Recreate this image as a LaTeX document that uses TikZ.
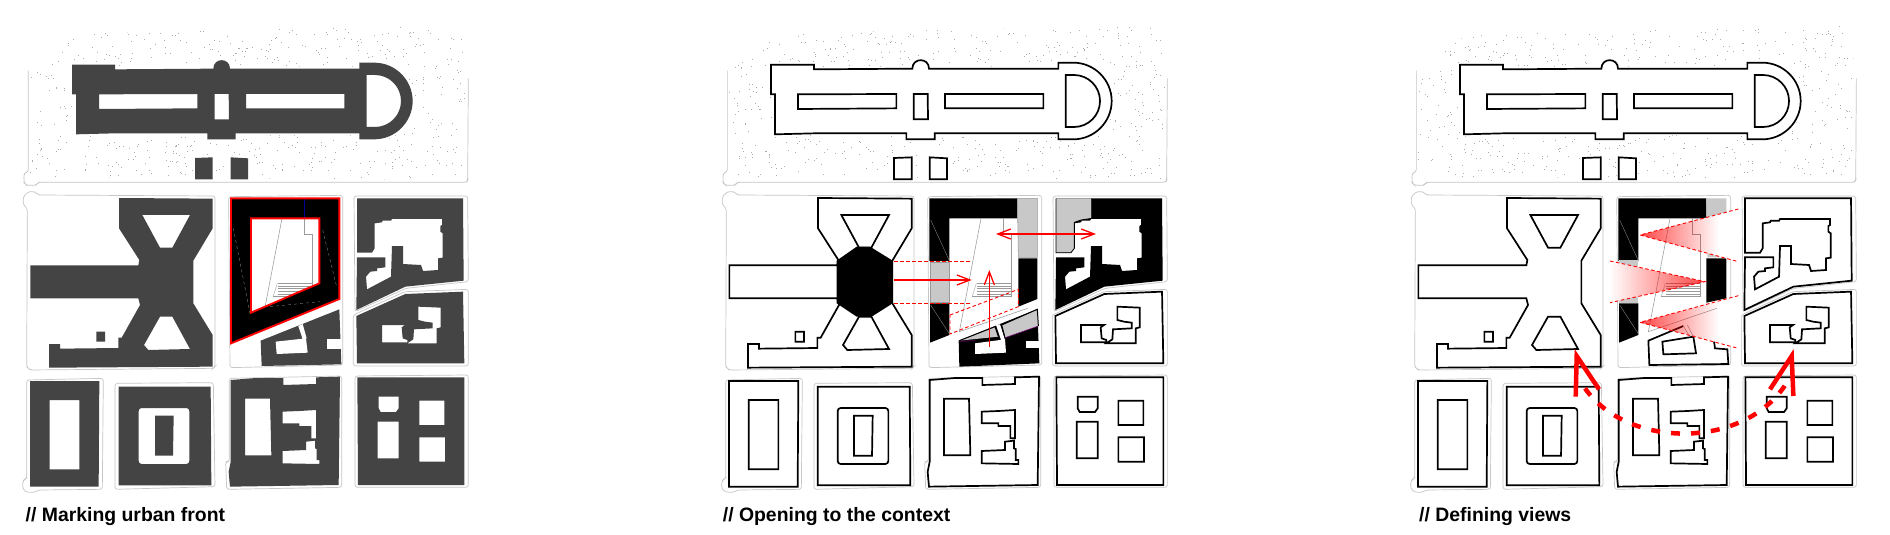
\documentclass[tikz,border=0pt]{standalone}
\usepackage{fontspec}
\setmainfont{Liberation Sans}
\usetikzlibrary{arrows.meta}
\definecolor{dk}{HTML}{444444}
\definecolor{plotg}{HTML}{C6C6C6}
\definecolor{grayfill}{HTML}{C8C8C8}
\definecolor{thing}{HTML}{9A9A9A}
\definecolor{dotg}{HTML}{ABABAB}
\definecolor{redd}{HTML}{FF0000}
\tikzset{
 outl/.style={draw=black,line width=1.7pt,line join=miter},
 plot/.style={draw=plotg,line width=.7pt,rounded corners=2.5pt},
 thinl/.style={draw=thing,line width=.55pt},
 reddash/.style={draw=redd,line width=.9pt,dash pattern=on 3.5pt off 2.5pt},
 redarrow/.style={draw=redd,line width=1.3pt,-{Straight Barb[length=13pt,width=10pt,line width=1.3pt]}},
 redbi/.style={draw=redd,line width=1.3pt,{Straight Barb[length=13pt,width=10pt,line width=1.3pt]}-{Straight Barb[length=13pt,width=10pt,line width=1.3pt]}},
 bigred/.style={draw=redd,line width=4.5pt,line join=miter,miter limit=10},
 label/.style={font=\bfseries\fontsize{19.4}{22}\selectfont,anchor=base west,inner sep=0pt,text=black},
}
\def\PalOut{(216,194)--(345,194)--(345,208)--(640,206) .. controls (640,172) and (690,172) .. (690,206)--(1078,206)--(1078,188)--(1123,188) .. controls (1186,188) and (1238,240) .. (1238,303) .. controls (1238,366) and (1186,418) .. (1123,418)--(1078,418)--(1078,400)--(707,400)--(707,418)--(622,418)--(622,400)--(345,400)--(228,403)--(228,283)--(216,283)--cycle}
\def\PalHoles{(297,283)--(592,282)--(592,325)--(297,327)--cycle (644,282)--(686,282)--(687,358)--(644,358)--cycle (738,282)--(1033,282)--(1033,325)--(738,325)--cycle (1100,225)--(1125,225) .. controls (1168,225) and (1203,260) .. (1203,303) .. controls (1203,346) and (1168,381) .. (1125,381)--(1100,381)--cycle}
\def\PalRects{(585,474)--(638,472)--(638,538)--(585,538)--cycle (692,472)--(744,475)--(744,538)--(692,538)--cycle}
\def\XOut{(357,594)--(638,596)--(638,685)--(580,782)--(580,910)--(638,1005)--(638,1100)--(147,1103)--(147,1032)--(180,1032)--(180,1046)--(355,1044)--(355,1013)--(365,1013)--(420,915)--(415,895)--(91,895)--(91,796)--(415,796)--(418,780)--(357,685)--cycle}
\def\XHoles{(427,645)--(570,645)--(517,743)--(480,743)--cycle (480,950)--(517,950)--(570,1047)--(445,1050)--(432,1035)--cycle (289,995)--(315,995)--(315,1025)--(289,1025)--cycle}
\def\UOut{(1071,595)--(1389,595)--(1391,842)--(1216,860)--(1069,930)--(1071,772)--(1156,772)--(1156,802)--(1131,805)--(1131,813)--(1111,815)--(1098,830)--(1101,868)--(1173,830)--(1176,738)--(1209,738)--(1209,792)--(1263,795)--(1269,813)--(1314,810)--(1314,775)--(1328,773)--(1328,700)--(1321,695)--(1321,678)--(1326,675)--(1326,657)--(1176,657)--(1173,662)--(1148,662)--(1146,667)--(1124,670)--(1124,745)--(1116,758)--(1071,758)--cycle}
\def\LOut{(1069,948)--(1216,882)--(1389,875)--(1393,1090)--(1071,1090)--cycle}
\def\LHoles{(1146,975)--(1215,975)--(1205,982)--(1208,1015)--(1222,1020)--(1222,1027)--(1146,1027)--cycle (1255,920)--(1322,923)--(1322,982)--(1310,985)--(1310,1030)--(1222,1030)--(1240,1018)--(1242,988)--(1298,985)--(1298,968)--(1275,965)--(1255,960)--cycle}
\def\BA{(90,1143)--(298,1143)--(296,1460)--(90,1460)--cycle (149,1200)--(238,1200)--(238,1408)--(149,1408)--cycle}
\def\BB{(356,1160)--(632,1160)--(634,1456)--(356,1456)--cycle (416,1224) [rounded corners=3pt] --(568,1224)--(568,1392)--(416,1392)--cycle [sharp corners] (465,1247)--(521,1247)--(519,1367)--(465,1367)--cycle}
\def\BC{(692,1140)--(768,1134)--(850,1134)--(850,1155)--(948,1152)--(948,1132)--(1020,1130)--(1016,1455)--(690,1460)--(688,1440)--(686,1415)--(692,1385)--cycle (735,1196)--(810,1196)--(814,1366)--(735,1366)--cycle (848,1235)--(898,1233)--(948,1230)--(948,1315)--(934,1315)--(934,1278)--(898,1278)--(898,1270)--(848,1270)--cycle (918,1325)--(945,1322)--(945,1345)--(950,1347)--(950,1380)--(958,1380)--(958,1392)--(848,1390)--(848,1353)--(918,1350)--cycle}
\def\BD{(1072,1132)--(1393,1132)--(1393,1455)--(1074,1455)--cycle (1136,1190)--(1196,1190)--(1196,1225)--(1188,1236)--(1142,1236)--(1136,1225)--cycle (1133,1265)--(1196,1265)--(1196,1375)--(1133,1375)--cycle (1258,1202)--(1333,1202)--(1333,1275)--(1258,1275)--cycle (1258,1312)--(1335,1312)--(1335,1385)--(1258,1385)--cycle}
\def\Hexa{(413,782)--(473,740)--(513,740)--(581,782)--(581,910)--(518,950)--(473,950)--(413,910)--cycle}
\newcommand\stipple[1]{%
 \begin{scope}
 \clip (90,530)--(90,215)--(115,195)--(155,170)--(200,120)--(290,100)--(800,88)--(1390,78)--(1400,240)--(1395,540)--cycle;
 \pgfmathsetseed{#1}
 \foreach \i in {1,...,800}{%
  \pgfmathrandominteger{\dx}{85}{1400}%
  \pgfmathrandominteger{\dy}{78}{540}%
  \fill[dotg] (\dx,\dy) rectangle ++(3,3);
 }
 \end{scope}
 \draw[white,line width=4pt,fill=white,line join=round] \PalOut;
 \draw[white,line width=4pt,fill=white,line join=round] \PalRects;
}
\newcommand\plots{%
 \path[plot] (85,212)--(85,515)--(72,520)--(72,548)--(80,556)--(108,556)--(115,547)--(1400,547)--(1403,540)--(1405,235);
 \path[plot] (115,585)--(645,588)--(645,1100)--(640,1105)--(90,1110)--(80,1100)--(82,625)--(70,615)--(70,590)--(85,575)--(105,575)--cycle;
 \path[plot] (686,590)--(1028,586)--(1028,1095)--(690,1103)--cycle;
 \path[plot] (1062,588)--(1403,588)--(1405,845)--(1218,865)--(1065,935)--cycle;
 \path[plot] (1060,945)--(1215,875)--(1405,868)--(1405,1098)--(1060,1098)--cycle;
 \path[plot] (80,1140)--(310,1135)--(307,1468)--(115,1470)--(100,1478)--(75,1475)--(67,1460)--(70,1440)--(80,1435)--cycle;
 \path[plot] (345,1150)--(640,1148)--(645,1460)--(345,1468)--cycle;
 \path[plot] (688,1135)--(1025,1128)--(1025,1462)--(680,1468)--(677,1385)--(688,1385)--cycle;
 \path[plot] (1065,1128)--(1405,1125)--(1405,1462)--(1065,1462)--cycle;
}
\newcommand\cinner{%
 \draw[thinl] (846,655)--(781,995)--(986,925);
 \draw[thinl] (913,655)--(913,702)--(938,702)--(938,888)--(820,888);
 \foreach \yy in {850,858,866,874,882}{\draw[thinl,line width=.35pt] (834,\yy)--(938,\yy);}
 \draw[thinl,line width=.35pt] (832,850)--(820,888);
}
\newcommand\outlinedcommon{%
 \path[outl] \PalOut; \path[outl] \PalHoles; \path[outl] \PalRects;
 \path[outl] \XOut; \path[outl] \XHoles;
 \path[outl] \BA; \path[outl] \BB; \path[outl] \BC; \path[outl] \BD;
 \path[outl] \LOut; \path[outl] \LHoles;
}
\newcommand\wedgeR[6]{%
 \begin{scope}
 \clip (#1,#2)--(#3,#4)--(#3,#5)--cycle;
 \foreach \s in {0,...,39}{%
  \pgfmathsetmacro\xa{#1+\s*6}
  \pgfmathsetmacro\xb{#1+\s*6+6.4}
  \pgfmathsetmacro\op{0.72*(1-\s/39)}
  \fill[redd,fill opacity=\op] (\xa,#4) rectangle (\xb,#5);
 }
 \end{scope}
}
\begin{document}
\begin{tikzpicture}[x=0.33333pt,y=-0.33333pt]
\fill[white] (0,0) rectangle (5670,1605);
\useasboundingbox (0,0) rectangle (5670,1605);

%% ---------- panel 1
\begin{scope}
\stipple{11}
\plots
\fill[dk,even odd rule] \PalOut \PalHoles;
\fill[dk] \PalRects;
\fill[dk,even odd rule] \XOut \XHoles;
\fill[black] (693,595)--(1018,595)--(1018,897)--(693,1030)--cycle;
\fill[white] (753,655)--(958,655)--(958,850)--(753,938)--cycle;
\begin{scope}
\clip (753,655)--(958,655)--(958,850)--(753,938)--cycle;
\cinner
\end{scope}
\draw[thinl,dashed,line width=.3pt] (700,685)--(750,940);
\draw[thinl,dashed,line width=.3pt] (968,690)--(1010,860);
\draw[thinl,dashed,line width=.3pt] (810,920)--(960,905);
\draw[blue!60!black,line width=.6pt] (913,598)--(913,655);
\draw[redd,line width=1.9pt] (693,595)--(1018,595)--(1018,897)--(693,1030)--cycle;
\draw[redd,line width=1.9pt] (753,655)--(958,655)--(958,850)--(753,938)--cycle;
\fill[dk] (782,1022)--(1018,928)--(1024,1093)--(785,1098)--cycle;
\fill[white] (895,978)--(908,972)--(920,1015)--(908,1018)--cycle;
\fill[white] (827,1025)--(918,1015)--(923,1058)--(830,1062)--cycle;
\fill[white] (982,1017)--(1026,1017)--(1026,1047)--(982,1047)--cycle;
\fill[dk,even odd rule] \UOut;
\fill[dk,even odd rule] \LOut \LHoles;
\fill[dk,even odd rule] \BA;
\fill[dk,even odd rule] \BB;
\fill[dk,even odd rule] \BC;
\fill[dk,even odd rule] \BD;
\end{scope}

%% ---------- panel 2
\begin{scope}[xshift=699pt]
\stipple{23}
\plots
\outlinedcommon
\fill[black] \Hexa;
\fill[black] \UOut;
\fill[grayfill] (1071,595)--(1178,595)--(1178,655)--(1146,660)--(1126,667)--(1126,745)--(1116,758)--(1071,758)--cycle;
\draw[black,line width=.8pt] (1178,595)--(1178,655)--(1146,660)--(1126,667)--(1126,745)--(1116,758)--(1071,758)--(1071,595);
\fill[black] (691,595)--(955,595)--(955,655)--(751,655)--(751,783)--(691,783)--cycle;
\fill[grayfill] (955,595)--(1015,595)--(1015,772)--(958,772)--cycle;
\draw[thinl] (955,595)--(1015,595)--(1015,772)--(958,772)--cycle;
\fill[black] (958,775)--(1015,775)--(1015,897)--(958,920)--cycle;
\fill[grayfill] (693,787)--(751,787)--(751,908)--(693,908)--cycle;
\draw[thinl] (693,787)--(751,787)--(751,908)--(693,908)--cycle;
\fill[black] (693,910)--(751,910)--(751,1005)--(693,1028)--cycle;
\cinner
\draw[thing,line width=.3pt] (695,660)--(750,780);
\draw[thing,line width=.3pt] (695,915)--(750,1000);
\fill[black] (779,1022)--(1015,927)--(1021,1090)--(781,1100)--cycle;
\fill[white] (891,975)--(903,973)--(918,1020)--(906,1020)--cycle;
\fill[white] (828,1030)--(918,1018)--(921,1058)--(828,1062)--cycle;
\fill[white] (981,1022)--(1023,1022)--(1023,1045)--(981,1045)--cycle;
\fill[grayfill] (781,1022)--(888,980)--(898,1010)--cycle;
\fill[grayfill] (908,975)--(1015,928)--(1018,978)--(918,1013)--cycle;
\draw[black,line width=1pt] (781,1022)--(888,980)--(898,1010);
\draw[black,line width=1pt] (918,1013)--(908,975)--(1015,928)--(1018,978);
\draw[violet,line width=.5pt] (781,1024)--(828,1022);
\draw[violet,line width=.5pt] (918,1013)--(1018,978);
\coordinate (d1a) at (585,785); \coordinate (d1b) at (813,785);
\coordinate (d2a) at (585,909); \coordinate (d2b) at (813,909);
\draw[reddash] (d1a)--(d1b);
\draw[reddash] (d2a)--(d2b);
\draw[reddash] (753,945)--(958,868)--(958,920)--(753,1002)--cycle;
\coordinate (a1) at (585,840); \coordinate (a1e) at (818,840);
\coordinate (a2) at (871,1042); \coordinate (a2e) at (871,810);
\coordinate (a3) at (891,702); \coordinate (a3e) at (1191,702);
\draw[redarrow] (a1)--(a1e);
\draw[redarrow] (a2)--(a2e);
\draw[redbi] (a3)--(a3e);
\end{scope}

%% ---------- panel 3
\begin{scope}[xshift=1388pt]
\stipple{37}
\plots
\outlinedcommon
\path[outl] \UOut;
\fill[black] (691,595)--(955,595)--(955,655)--(751,655)--(751,783)--(691,783)--cycle;
\fill[grayfill] (955,595)--(1015,595)--(1015,772)--(958,772)--cycle;
\fill[black] (955,775)--(1015,775)--(1015,895)--(955,908)--cycle;
\fill[grayfill] (693,780)--(751,780)--(751,910)--(693,910)--cycle;
\fill[black] (693,910)--(751,910)--(751,1005)--(693,1028)--cycle;
\draw[thing,line width=.3pt] (695,660)--(750,780);
\draw[thing,line width=.3pt] (695,915)--(750,1000);
\fill[white] (756,705)--(1051,627)--(1051,785)--cycle;
\fill[white] (951,845)--(666,783)--(666,908)--cycle;
\fill[white] (756,967)--(1051,887)--(1051,1045)--cycle;
\cinner
\path[outl] (886,978)--(781,1022)--(784,1095)--(1021,1092)--(1018,1048)--(981,1045)--(978,1025);
\path[outl] (823,1025)--(916,1010)--(924,1060)--(826,1063)--cycle;
\draw[thinl] (886,978)--(905,1010);
\draw[thinl] (898,975)--(916,1010);
\wedgeR{756}{705}{1051}{627}{785}{1}
\wedgeR{756}{967}{1051}{887}{1045}{1}
\begin{scope}
\clip (951,845)--(666,783)--(666,908)--cycle;
\foreach \s in {0,...,47}{%
 \pgfmathsetmacro\xa{951-\s*6}
 \pgfmathsetmacro\xb{951-\s*6-6.4}
 \pgfmathsetmacro\op{0.72*(1-\s/47)}
 \fill[redd,fill opacity=\op] (\xa,783) rectangle (\xb,908);
}
\end{scope}
\coordinate (w1) at (756,705); \coordinate (w1a) at (1051,627); \coordinate (w1b) at (1051,785);
\coordinate (w2) at (951,845); \coordinate (w2a) at (666,783); \coordinate (w2b) at (666,908);
\coordinate (w3) at (756,967); \coordinate (w3a) at (1051,887); \coordinate (w3b) at (1051,1045);
\draw[reddash] (w1a)--(w1)--(w1b);
\draw[reddash] (w2a)--(w2)--(w2b);
\draw[reddash] (w3a)--(w3)--(w3b);
\coordinate (s) at (591,1165); \coordinate (e) at (1201,1140);
\coordinate (c1) at (720,1350); \coordinate (c2) at (1080,1350);
\draw[draw=redd,line width=4.5pt,dash pattern=on 9pt off 11pt] (s) .. controls (c1) and (c2) .. (e);
\coordinate (t1) at (566,1068); \coordinate (t1a) at (563,1190); \coordinate (t1b) at (633,1168);
\coordinate (t2) at (1211,1068); \coordinate (t2a) at (1216,1188); \coordinate (t2b) at (1146,1168);
\draw[bigred] (t1a)--(t1)--(t1b);
\draw[bigred] (t2a)--(t2)--(t2b);
\end{scope}

\node[label] (cap1) at (76.5,1565) {// Marking urban front};
\node[label] (cap2) at (2168,1565) {// Opening to the context};
\node[label] (cap3) at (4257,1565) {// Defining views};
\end{tikzpicture}
\end{document}
